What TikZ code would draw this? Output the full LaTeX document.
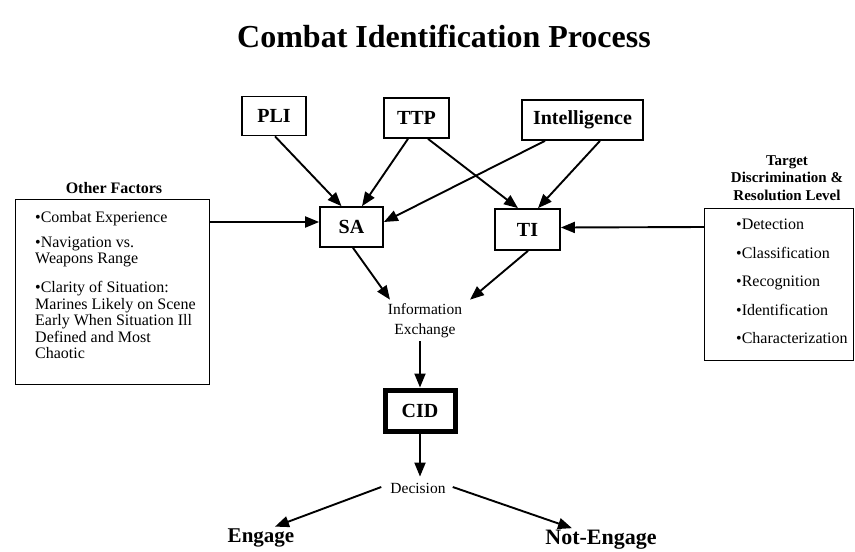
\documentclass[tikz,border=0pt]{standalone}
\usepackage{fontspec}
\setmainfont{Liberation Serif}
\usetikzlibrary{arrows.meta}
\begin{document}
\begin{tikzpicture}[x=1pt,y=-1pt,
  box/.style={draw, line width=1.7pt, font=\fontsize{20}{24}\selectfont\bfseries, inner sep=0pt},
  arr/.style={line width=1.9pt, -{Triangle[length=14pt,width=11pt]}},
  plain/.style={font=\fontsize{15.5}{19}\selectfont, inner sep=0pt},
  lbl/.style={font=\fontsize{15}{17.5}\selectfont\bfseries, align=center, inner sep=0pt}]
\useasboundingbox (0,0) rectangle (855,552);
\node[font=\fontsize{32}{36}\selectfont\bfseries, inner sep=0pt] (title) at (444,36) {Combat Identification Process};

\node[box, minimum width=64pt, minimum height=39pt] (pli) at (274,116) {PLI};
\node[box, minimum width=65pt, minimum height=40pt] (ttp) at (416.5,118) {TTP};
\node[box, minimum width=121pt, minimum height=40pt] (intel) at (582.5,120) {Intelligence};
\node[box, minimum width=63pt, minimum height=40pt] (sa) at (351.5,227) {SA};
\node[box, minimum width=65pt, minimum height=41pt] (ti) at (527.5,229.5) {TI};

% left box
\node[lbl, font=\fontsize{16}{19}\selectfont\bfseries] (oflbl) at (114,188) {Other Factors};
\node[draw, line width=1.3pt, minimum width=194pt, minimum height=185pt, anchor=north west, inner sep=0pt] (ofbox) at (15,199) {};
\node[anchor=north west, align=left, inner sep=0pt, font=\fontsize{16}{16.5}\selectfont] (oftext) at (35,211)
 {•Combat Experience\\[8.5pt]
  •Navigation vs.\\
  Weapons Range\\[12.5pt]
  •Clarity of Situation:\\
  Marines Likely on Scene\\
  Early When Situation Ill\\
  Defined and Most\\
  Chaotic};

% right box
\node[lbl] (tdrlbl) at (787,178) {Target\\Discrimination \&\\Resolution Level};
\node[draw, line width=1.3pt, minimum width=149pt, minimum height=152pt, anchor=north west, inner sep=0pt] (tdrbox) at (704,208) {};
\node[anchor=north west, align=left, inner sep=0pt, font=\fontsize{16}{28.5}\selectfont] (tdrtext) at (736,219)
 {•Detection\\
  •Classification\\
  •Recognition\\
  •Identification\\
  •Characterization};

\node[plain, align=center, font=\fontsize{15.5}{20}\selectfont] (info) at (425,321) {Information\\Exchange};
\node[box, line width=5pt, minimum width=70pt, minimum height=41pt] (cid) at (420,410.5) {CID};
\node[plain] (dec) at (418,488) {Decision};
\node[font=\fontsize{21}{25}\selectfont\bfseries, inner sep=0pt] (eng) at (261,538) {Engage};
\node[font=\fontsize{22}{26}\selectfont\bfseries, inner sep=0pt] (neng) at (601,540) {Not-Engage};

% connectors
\draw[arr] (ofbox.east |- 0,222) -- ([yshift=5pt]sa.west);
\draw[arr] (tdrbox.west |- 0,227) -- ([yshift=2pt]ti.east);
\draw[arr] ([xshift=1pt]pli.south) -- ([xshift=-10pt]sa.north);
\draw[arr] ([xshift=-8.5pt]ttp.south) -- ([xshift=10.5pt]sa.north);
\draw[arr] ([xshift=11.5pt]ttp.south) -- ([xshift=-9.5pt]ti.north);
\draw[arr] ([xshift=-37.5pt]intel.south) -- ([yshift=5pt]sa.east);
\draw[arr] ([xshift=17.5pt]intel.south) -- ([xshift=10.5pt]ti.north);
\draw[arr] ([xshift=1.5pt]sa.south) -- ([xshift=-35pt,yshift=4pt]info.north);
\draw[arr] ([xshift=0.5pt]ti.south) -- ([xshift=45pt,yshift=4pt]info.north);
\draw[arr] ([yshift=-3pt]cid.north |- info.south) -- (cid.north);
\draw[arr] (cid.south) -- ([yshift=6pt]cid.south |- dec.north);
\draw[arr] ([xshift=-9pt,yshift=1pt]dec.west) -- ([xshift=14pt,yshift=2pt]eng.north);
\draw[arr] ([xshift=7pt,yshift=1pt]dec.east) -- ([xshift=-29pt,yshift=2pt]neng.north);
\end{tikzpicture}
\end{document}
